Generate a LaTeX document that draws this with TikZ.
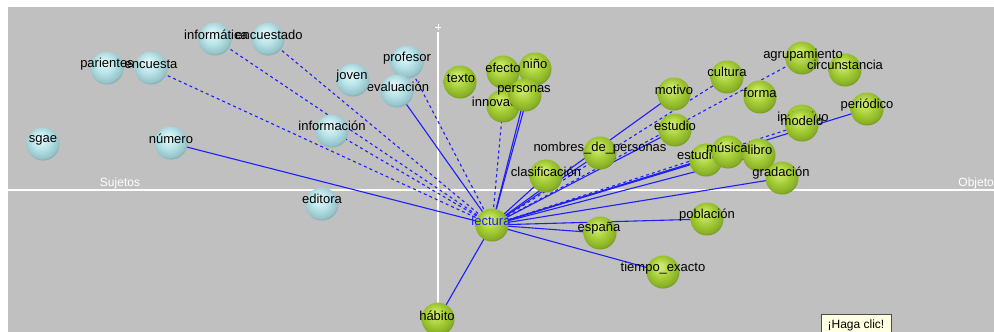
\documentclass[tikz,border=0pt]{standalone}
\usepackage{fontspec}
\setmainfont{Liberation Sans}
\usetikzlibrary{shadings}
\definecolor{bggray}{RGB}{192,192,192}
\definecolor{edgeblue}{RGB}{30,30,250}
\definecolor{tipfill}{RGB}{255,255,225}
\definecolor{bA}{RGB}{222,245,247}
\definecolor{bB}{RGB}{182,226,231}
\definecolor{bC}{RGB}{150,195,200}
\definecolor{bD}{RGB}{95,125,130}
\definecolor{gA}{RGB}{205,232,110}
\definecolor{gB}{RGB}{166,206,56}
\definecolor{gC}{RGB}{135,175,38}
\definecolor{gD}{RGB}{85,110,22}
\pgfdeclareradialshading{bluesphere}{\pgfpoint{-5bp}{9bp}}{color(0bp)=(bA); color(4bp)=(bA); color(15bp)=(bB); color(26bp)=(bC); color(33bp)=(bD); color(50bp)=(bD)}
\pgfdeclareradialshading{greensphere}{\pgfpoint{-5bp}{9bp}}{color(0bp)=(gA); color(4bp)=(gA); color(15bp)=(gB); color(26bp)=(gC); color(33bp)=(gD); color(50bp)=(gD)}
\pgfdeclarelayer{bg}
\pgfdeclarelayer{edges}
\pgfsetlayers{bg,edges,main}
\tikzset{
  bsph/.style={circle,minimum size=33pt,inner sep=0pt,shading=bluesphere},
  gsph/.style={circle,minimum size=33pt,inner sep=0pt,shading=greensphere},
  lbl/.style={inner sep=0pt,font=\fontsize{13}{15}\selectfont,text=black},
  axlbl/.style={inner sep=0pt,font=\fontsize{12}{14}\selectfont,text=white},
  solidedge/.style={draw=edgeblue,line width=1.1pt},
  dashedge/.style={draw=edgeblue,line width=1.1pt,dash pattern=on 3pt off 3pt},
  tipbox/.style={draw=black!70,fill=tipfill,inner sep=0pt,minimum width=70pt,minimum height=22pt,font=\fontsize{12}{14}\selectfont}
}
\begin{document}
\begin{tikzpicture}[x=1pt,y=-1pt]
\useasboundingbox (0,0) rectangle (994,332);
\begin{pgfonlayer}{bg}
\fill[white] (0,0) rectangle (994,332);
\fill[bggray] (8,7) rectangle (994,332);
\draw[white,line width=1.2pt] (8,190) -- (994,190);
\draw[white,line width=1.2pt] (438,32) -- (438,332);
\draw[white,line width=0.8pt] (435,27) -- (441,27) (438,24) -- (438,30);
\end{pgfonlayer}
\node[axlbl] (sujetos) at (120,183) {Sujetos};
\node[axlbl,anchor=east] (objeto) at (994,183) {Objeto};
% blue spheres
\node[bsph] (sgae) at (43,144) {};
\node[lbl] (sgae-l) at (43,140) {sgae};
\node[bsph] (pariente) at (107,68) {};
\node[bsph] (encuesta) at (151,68) {};
\node[lbl] (pariente-l) at (107,64) {parientes};
\node[lbl] (encuesta-l) at (151,64) {encuesta};
\node[bsph] (informatica) at (215,39) {};
\node[bsph] (encuestado) at (268,39) {};
\node[lbl] (informatica-l) at (216,35) {informática};
\node[lbl] (encuestado-l) at (269,35) {encuestado};
\node[bsph] (profesor) at (407,62) {};
\node[lbl] (profesor-l) at (407,58) {profesor};
\node[bsph] (evaluacion) at (397,91) {};
\node[lbl] (evaluacion-l) at (398,87) {evaluación};
\node[bsph] (joven) at (353,80) {};
\node[lbl] (joven-l) at (352,76) {joven};
\node[bsph] (informacion) at (332,131) {};
\node[lbl] (informacion-l) at (332,126) {información};
\node[bsph] (numero) at (171,143) {};
\node[lbl] (numero-l) at (171,139) {número};
\node[bsph] (editora) at (322,204) {};
\node[lbl] (editora-l) at (322,199) {editora};
% green spheres
\node[gsph] (texto) at (460,82) {};
\node[lbl] (texto-l) at (461,78) {texto};
\node[gsph] (innovacion) at (503,106) {};
\node[lbl] (innovacion-l) at (503,102) {innovación};
\node[gsph] (efecto) at (503,72) {};
\node[gsph] (nino) at (535,69) {};
\node[gsph] (personas) at (525,95) {};
\node[lbl] (efecto-l) at (503,68) {efecto};
\node[lbl] (nino-l) at (535,64) {niño};
\node[lbl] (personas-l) at (524,90) {personas};
\node[gsph] (nombres) at (600,153) {};
\node[lbl] (nombres-l) at (600,148) {nombres\_de\_personas};
\node[gsph] (clasificacion) at (546,176) {};
\node[lbl] (clasificacion-l) at (546,172) {clasificación};
\node[gsph] (lectura) at (492,225) {};
\node[lbl,text=edgeblue] (lectura-l) at (491,221) {lectura};
\node[gsph] (motivo) at (674,94) {};
\node[lbl] (motivo-l) at (674,90) {motivo};
\node[gsph] (cultura) at (727,77) {};
\node[lbl] (cultura-l) at (727,72) {cultura};
\node[gsph] (forma) at (760,97) {};
\node[lbl] (forma-l) at (760,93) {forma};
\node[gsph] (agrupamiento) at (802,58) {};
\node[gsph] (circunstancia) at (845,70) {};
\node[lbl] (agrupamiento-l) at (803,55) {agrupamiento};
\node[lbl] (circunstancia-l) at (845,65) {circunstancia};
\node[gsph] (periodico) at (867,109) {};
\node[lbl] (periodico-l) at (867,105) {periódico};
\node[gsph] (individuo) at (802,121) {};
\node[lbl] (individuo-l) at (803,117) {individuo};
\node[gsph] (modelo) at (802,125) {};
\node[lbl] (modelo-l) at (802,121) {modelo};
\node[gsph] (estudio) at (675,130) {};
\node[lbl] (estudio-l) at (675,126) {estudio};
\node[gsph] (estudi) at (706,160) {};
\node[lbl] (estudi-l) at (698,155) {estudio};
\node[gsph] (musica) at (728,152) {};
\node[gsph] (libro) at (759,155) {};
\node[lbl] (musica-l) at (727,148) {música};
\node[lbl] (libro-l) at (760,150) {libro};
\node[gsph] (gradacion) at (782,178) {};
\node[lbl] (gradacion-l) at (781,173) {gradación};
\node[gsph] (poblacion) at (707,219) {};
\node[lbl] (poblacion-l) at (707,215) {población};
\node[gsph] (espana) at (600,233) {};
\node[lbl] (espana-l) at (599,228) {españa};
\node[gsph] (tiempo) at (663,272) {};
\node[lbl] (tiempo-l) at (663,268) {tiempo\_exacto};
\node[gsph] (habito) at (438,319) {};
\node[lbl] (habito-l) at (437,316) {hábito};
% tooltip
\node[tipbox,anchor=north] (tip) at (856,314) {¡Haga clic!};
% edges
\begin{pgfonlayer}{edges}
\foreach \n in {numero,evaluacion,personas,nino,motivo,estudio,nombres,clasificacion,estudi,musica,libro,gradacion,poblacion,espana,tiempo,habito,periodico}
  \draw[solidedge] (lectura.center) -- (\n.center);
\foreach \n in {encuesta,informatica,encuestado,informacion,profesor,innovacion,cultura,agrupamiento,modelo}
  \draw[dashedge] (lectura.center) -- (\n.center);
\end{pgfonlayer}
\end{tikzpicture}
\end{document}
